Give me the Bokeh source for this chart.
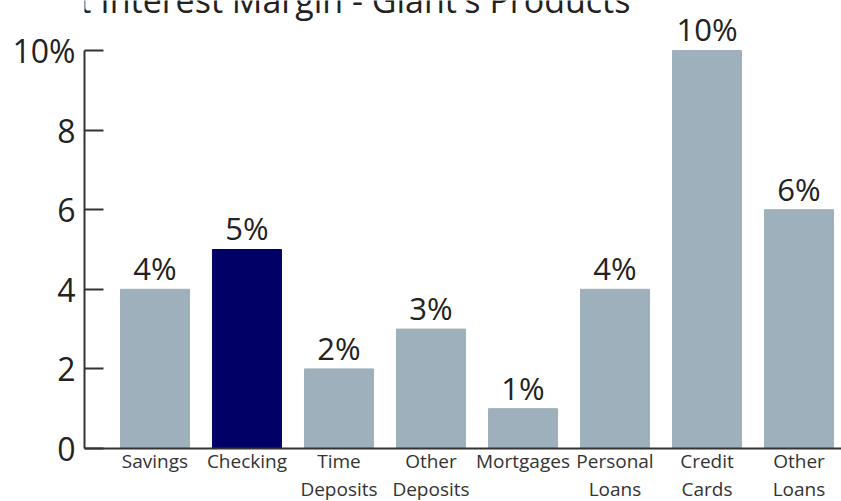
from bokeh.plotting import figure
from bokeh.models import ColumnDataSource, LabelSet, Label, FixedTicker, Range1d, Span
from bokeh.embed import file_html
from bokeh.resources import INLINE
from bokeh.core.properties import value

# ---- data ----
title_text = "Net Interest Margin - Giant's Products"
categories = ["Savings", "Checking", "Time Deposits", "Other Deposits", "Mortgages",
              "Personal Loans", "Credit Cards", "Other Loans"]
margins = [4, 5, 2, 3, 1, 4, 10, 6]
highlight = "Checking"
y_ticks = [0, 2, 4, 6, 8, 10]
y_tick_labels = ["0", "2", "4", "6", "8", "10%"]

BASE = "#9db0bb"
HIGH = "#000066"
FONT = "Open Sans"
TXT = "#222222"
CAT_TXT = "#333333"
AXIS = "#333333"

xs = list(range(len(categories)))
colors = [HIGH if c == highlight else BASE for c in categories]
labels = [f"{v}%" for v in margins]
line1 = [c.split(" ")[0] for c in categories]
line2 = [c.split(" ")[1] if " " in c else "" for c in categories]
zeros = [0] * len(categories)
src = ColumnDataSource(dict(x=xs, value=margins, color=colors, label=labels,
                            line1=line1, line2=line2, base=zeros))

p = figure(width=841, height=501, x_range=Range1d(-0.766, 7.462), y_range=Range1d(-1.332, 11.256),
           output_backend="svg", toolbar_location=None, x_axis_location=None,
           min_border_left=84, min_border_right=0, min_border_top=0, min_border_bottom=0)
p.outline_line_color = None
p.xgrid.visible = False
p.ygrid.visible = False
p.background_fill_color = "white"
p.border_fill_color = "white"

p.vbar(x="x", top="value", width=0.75, color="color", source=src)

# value labels above bars
p.add_layout(LabelSet(x="x", y="value", text="label", source=src, y_offset=9,
                      text_align="center", text_baseline="alphabetic",
                      text_font=value(FONT), text_font_size="31px", text_color=TXT))

# y axis
ya = p.yaxis[0]
ya.ticker = FixedTicker(ticks=y_ticks)
ya.major_label_overrides = {t: l for t, l in zip(y_ticks, y_tick_labels)}
ya.bounds = (0, 10)
ya.axis_line_color = AXIS
ya.axis_line_width = 2
ya.major_tick_line_color = AXIS
ya.major_tick_line_width = 2
ya.major_tick_in = 19
ya.major_tick_out = 0
ya.minor_tick_line_color = None
ya.major_label_standoff = 9
ya.major_label_text_font = FONT
ya.major_label_text_font_size = "32px"
ya.major_label_text_color = TXT

# baseline (x axis line at 0)
p.add_layout(Span(location=0, dimension="width", line_color=AXIS, line_width=2))

# category names, two lines
p.add_layout(LabelSet(x="x", y="base", text="line1", source=src, y_offset=-20,
                      text_align="center", text_baseline="alphabetic",
                      text_font=value(FONT), text_font_size="19px", text_color=CAT_TXT))
p.add_layout(LabelSet(x="x", y="base", text="line2", source=src, y_offset=-48,
                      text_align="center", text_baseline="alphabetic",
                      text_font=value(FONT), text_font_size="19px", text_color=CAT_TXT))

# title (partially cut off at the top of the image, as in the reference)
p.add_layout(Label(x=5.168, y=11.257, text=title_text, text_align="right",
                   text_baseline="alphabetic",
                   text_font=FONT, text_font_size="34px", text_color=TXT))

open("out.html", "w").write(file_html(p, INLINE))
